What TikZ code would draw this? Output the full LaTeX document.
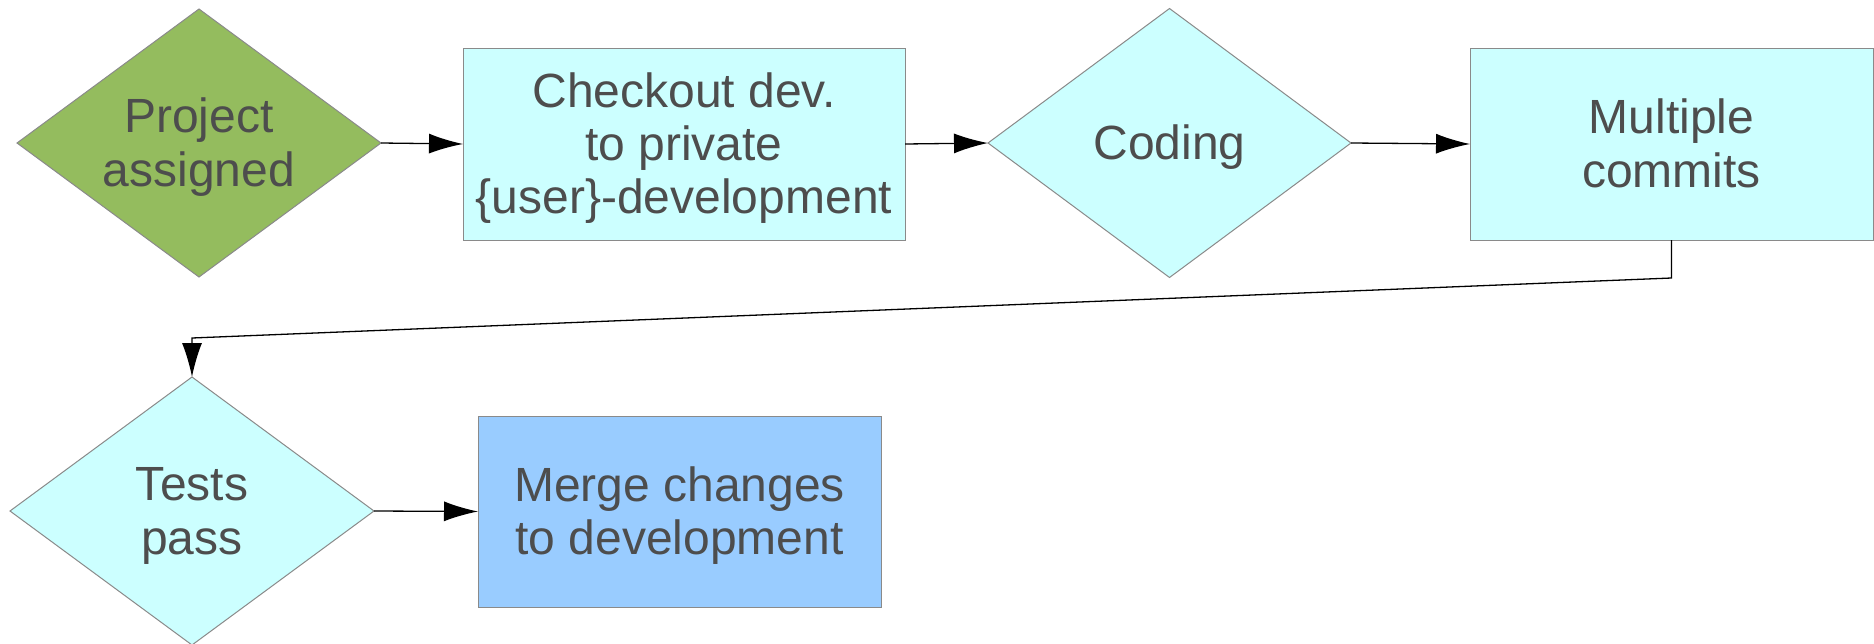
\documentclass[tikz,border=0pt]{standalone}
\usepackage{fontspec}
\setmainfont{Liberation Sans}
\usetikzlibrary{shapes.geometric,arrows.meta}
\definecolor{txtgray}{HTML}{4D4D4D}
\definecolor{greenfill}{HTML}{94BC5E}
\definecolor{cyanfill}{HTML}{CCFFFF}
\definecolor{bluefill}{HTML}{99CCFF}
\definecolor{edgegray}{HTML}{8A8A8A}
\newcommand{\lostrut}{\rule[-5.1pt]{0pt}{26.6pt}}
\begin{document}
\begin{tikzpicture}[x=0.5pt,y=-0.5pt,
  lbl/.style={font=\fontsize{24pt}{26.6pt}\selectfont, text=txtgray, align=center,
    draw=edgegray, line width=0.5pt, inner sep=0pt, outer sep=0pt},
  decide/.style={lbl, diamond, shape aspect=1.36, minimum width=#1},
  procbox/.style={lbl, rectangle},
  flow/.style={draw=black, line width=0.65pt, -{Latex[length=17pt,width=10pt]}}
]
\useasboundingbox (0,0) rectangle (1874,643);
\node[decide=182pt, minimum height=134pt, fill=greenfill] (d1) at (199,143) {\lostrut Project\\\lostrut assigned};
\node[procbox, minimum width=221pt, minimum height=96pt, fill=cyanfill] (b1) at (684,144) {\lostrut Checkout dev.\\\lostrut to private\\\lostrut\{user\}-development};
\node[decide=181.5pt, minimum height=134.5pt, fill=cyanfill] (d2) at (1169.5,143) {\lostrut Coding};
\node[procbox, minimum width=201.5pt, minimum height=96pt, fill=cyanfill] (b2) at (1671.5,144) {\lostrut Multiple\\\lostrut commits};
\node[decide=182pt, minimum height=134pt, fill=cyanfill] (d3) at (192,511) {\lostrut Tests\\\lostrut pass};
\node[procbox, minimum width=201.5pt, minimum height=95.5pt, fill=bluefill] (b3) at (679.5,511.5) {\lostrut Merge changes\\\lostrut to development};
\coordinate (c1) at (1671.5,278);
\coordinate (c2) at (192,338);
\draw[flow] (d1.east) -- (b1.west);
\draw[flow] (b1.east) -- (d2.west);
\draw[flow] (d2.east) -- (b2.west);
\draw[flow] (b2.south) -- (c1) -- (c2) -- (d3.north);
\draw[flow] (d3.east) -- (b3.west);
\end{tikzpicture}
\end{document}
